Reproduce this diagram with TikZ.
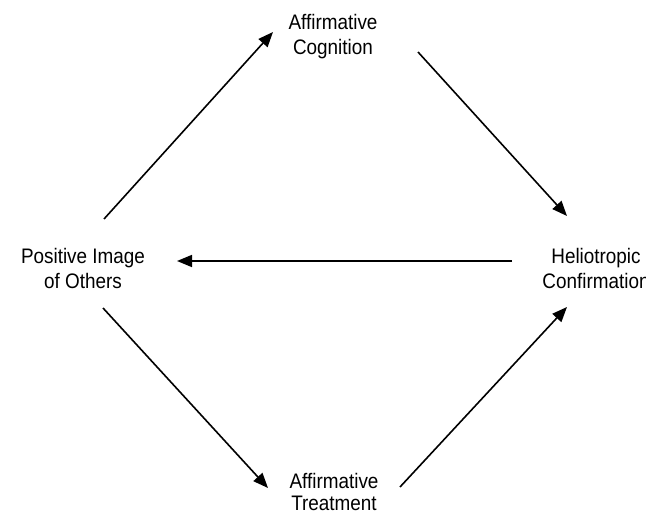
\documentclass[tikz,border=0pt]{standalone}
\usepackage{fontspec}
\setmainfont{Liberation Sans}
\usetikzlibrary{arrows.meta}
\tikzset{
  lbl/.style={align=center, inner sep=0pt, font=\fontsize{21}{25}\selectfont, xscale=0.9, transform shape},
  conn/.style={line width=1.6pt, -{Triangle[length=15pt,width=12pt]}}
}
\begin{document}
\begin{tikzpicture}[x=1pt,y=-1pt]
\useasboundingbox (0,0) rectangle (646,516);
\clip (0,0) rectangle (646,516);
\node[lbl] (cog) at (333,37) {Affirmative\\Cognition};
\node[lbl] (pos) at (83,268) {Positive Image\\of Others};
\node[lbl] (hel) at (596,268) {Heliotropic\\Confirmation};
\node[lbl, font=\fontsize{21}{22}\selectfont] (tre) at (334,492) {Affirmative\\Treatment};
\coordinate (a1s) at (104,219);
\coordinate (a1e) at (273,32);
\coordinate (a2s) at (418,52);
\coordinate (a2e) at (567,216);
\coordinate (a3s) at (512,261);
\coordinate (a3e) at (177,261);
\coordinate (a4s) at (103,308);
\coordinate (a4e) at (268,488);
\coordinate (a5s) at (400,487);
\coordinate (a5e) at (567,307);
\draw[conn] (a1s) -- (a1e);
\draw[conn] (a2s) -- (a2e);
\draw[conn] (a3s) -- (a3e);
\draw[conn] (a4s) -- (a4e);
\draw[conn] (a5s) -- (a5e);
\end{tikzpicture}
\end{document}
